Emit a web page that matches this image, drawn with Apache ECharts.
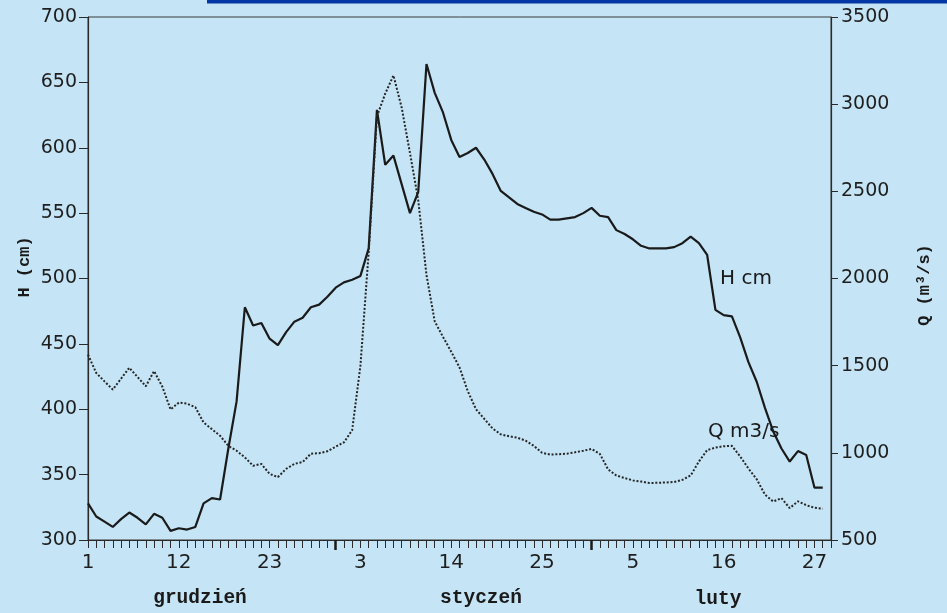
<!DOCTYPE html>
<html><head><meta charset="utf-8">
<script src="https://cdn.jsdelivr.net/npm/echarts@6/dist/echarts.min.js"></script>
<style>html,body{margin:0;padding:0;background:#c5e4f5;} #c{width:947px;height:613px;}</style>
</head><body><div id="c"></div>
<script>
// Days from 1 December to 1 March
const categories = [
 '1.12','2.12','3.12','4.12','5.12','6.12','7.12','8.12','9.12','10.12','11.12','12.12','13.12','14.12','15.12','16.12',
 '17.12','18.12','19.12','20.12','21.12','22.12','23.12','24.12','25.12','26.12','27.12','28.12','29.12','30.12','31.12',
 '1.01','2.01','3.01','4.01','5.01','6.01','7.01','8.01','9.01','10.01','11.01','12.01','13.01','14.01','15.01','16.01',
 '17.01','18.01','19.01','20.01','21.01','22.01','23.01','24.01','25.01','26.01','27.01','28.01','29.01','30.01','31.01',
 '1.02','2.02','3.02','4.02','5.02','6.02','7.02','8.02','9.02','10.02','11.02','12.02','13.02','14.02','15.02','16.02',
 '17.02','18.02','19.02','20.02','21.02','22.02','23.02','24.02','25.02','26.02','27.02','28.02','1.03'
];
const xTickLabels = ['1','12','23','3','14','25','5','16','27'];
const monthNames = ['grudzień','styczeń','luty'];
const monthBoundaryTicks = [30, 61];

// Water stage H (cm)
const H = [
 328,318,314,310,316,321,317,312,320,317,307,309,308,310,328,332,331,370,406,478,
 464,466,454,449,459,467,470,478,480,486,493,497,499,502,523,629,587,594,572,550,
 566,664,642,627,606,593,596,600,591,580,567,562,557,554,551,549,545,545,546,547,
 550,554,548,547,537,534,530,525,523,523,523,524,527,532,527,518,476,472,471,455,
 436,421,401,383,370,360,368,365,340,340
];
// Discharge Q (m3/s)
const Q = [
 1563,1458,1410,1363,1425,1488,1435,1382,1469,1380,1249,1288,1282,1262,1174,1136,1098,1040,1012,974,
 926,936,879,861,908,937,947,995,998,1009,1035,1060,1130,1500,2150,2930,3060,3165,2980,2720,
 2450,2020,1754,1665,1580,1490,1354,1250,1195,1140,1106,1095,1087,1070,1040,1000,990,992,995,1003,
 1012,1022,994,905,870,855,842,835,827,828,830,833,845,870,950,1016,1030,1038,1040,979,
 910,849,760,721,740,683,722,700,685,679
];

const ink = '#1a1a1a';
const chart = echarts.init(document.getElementById('c'), null, {renderer: 'canvas'});
chart.setOption({
  animation: false,
  backgroundColor: '#c5e4f5',
  grid: {left: 88, right: 116, top: 17, bottom: 73, show: true, borderColor: '#3a3a3a', borderWidth: 1, backgroundColor: 'transparent'},
  xAxis: [{
    type: 'category', data: categories, boundaryGap: false,
    axisLine: {lineStyle: {color: '#2a2a2a', width: 1.2}},
    axisTick: {show: true, interval: 0, length: 8, lineStyle: {color: '#2a2a2a', width: 1}},
    axisLabel: {
      interval: 10, margin: 13, fontSize: 20, fontFamily: 'DejaVu Sans', color: '#1e1e1e',
      formatter: function (v) { const i = categories.indexOf(v); return i % 11 === 0 ? xTickLabels[i / 11] : ''; }
    },
    splitLine: {show: false}
  }, {
    type: 'value', min: 0, max: categories.length - 1, position: 'bottom', gridIndex: 0,
    axisLine: {show: false}, axisLabel: {show: false}, splitLine: {show: false},
    axisTick: {show: true, customValues: monthBoundaryTicks, length: 10, lineStyle: {color: '#1a1a1a', width: 2.5}}
  }],
  yAxis: [{
    type: 'value', min: 300, max: 700, interval: 50, position: 'left',
    axisLine: {show: true, lineStyle: {color: '#2a2a2a', width: 1.2}},
    axisTick: {show: true, length: 9, lineStyle: {color: '#2a2a2a'}},
    axisLabel: {margin: 11, fontSize: 19, fontFamily: 'DejaVu Sans', color: '#1e1e1e', formatter: function (v) { return String(v); }},
    splitLine: {show: false}
  }, {
    type: 'value', min: 500, max: 3500, interval: 500, position: 'right',
    axisLine: {show: true, lineStyle: {color: '#2a2a2a', width: 1.2}},
    axisTick: {show: true, length: 7, lineStyle: {color: '#2a2a2a'}},
    axisLabel: {margin: 10, fontSize: 19, fontFamily: 'DejaVu Sans', color: '#1e1e1e', formatter: function (v) { return String(v); }},
    splitLine: {show: false}
  }],
  series: [{
    name: 'H cm', type: 'line', xAxisIndex: 0, yAxisIndex: 0, data: H,
    showSymbol: false, lineStyle: {color: ink, width: 2.2}
  }, {
    name: 'Q m3/s', type: 'line', xAxisIndex: 0, yAxisIndex: 1, data: Q,
    showSymbol: false, lineStyle: {color: '#262626', width: 2, type: [2, 1.8]}
  }],
  graphic: [
    {type: 'rect', shape: {x: 207, y: 0, width: 740, height: 3.5}, style: {fill: '#0536a6'}},
    {type: 'text', x: 200, y: 598, style: {text: monthNames[0], font: 'bold 19.5px "Liberation Mono"', fill: ink, align: 'center', verticalAlign: 'middle'}},
    {type: 'text', x: 481, y: 598, style: {text: monthNames[1], font: 'bold 19.5px "Liberation Mono"', fill: ink, align: 'center', verticalAlign: 'middle'}},
    {type: 'text', x: 718, y: 599, style: {text: monthNames[2], font: 'bold 19.5px "Liberation Mono"', fill: ink, align: 'center', verticalAlign: 'middle'}},
    {type: 'text', x: 720, y: 279, style: {text: 'H cm', font: '20px "DejaVu Sans"', fill: ink, align: 'left', verticalAlign: 'middle'}},
    {type: 'text', x: 708, y: 432, style: {text: 'Q m3/s', font: '20px "DejaVu Sans"', fill: ink, align: 'left', verticalAlign: 'middle'}},
    {type: 'text', x: 25, y: 267, rotation: Math.PI / 2, style: {text: 'H (cm)', font: 'bold 17px "Liberation Mono"', fill: ink, align: 'center', verticalAlign: 'middle'}},
    {type: 'text', x: 925, y: 285, rotation: Math.PI / 2, style: {text: 'Q (m³/s)', font: 'bold 17px "Liberation Mono"', fill: ink, align: 'center', verticalAlign: 'middle'}}
  ]
});
</script>
</body></html>
